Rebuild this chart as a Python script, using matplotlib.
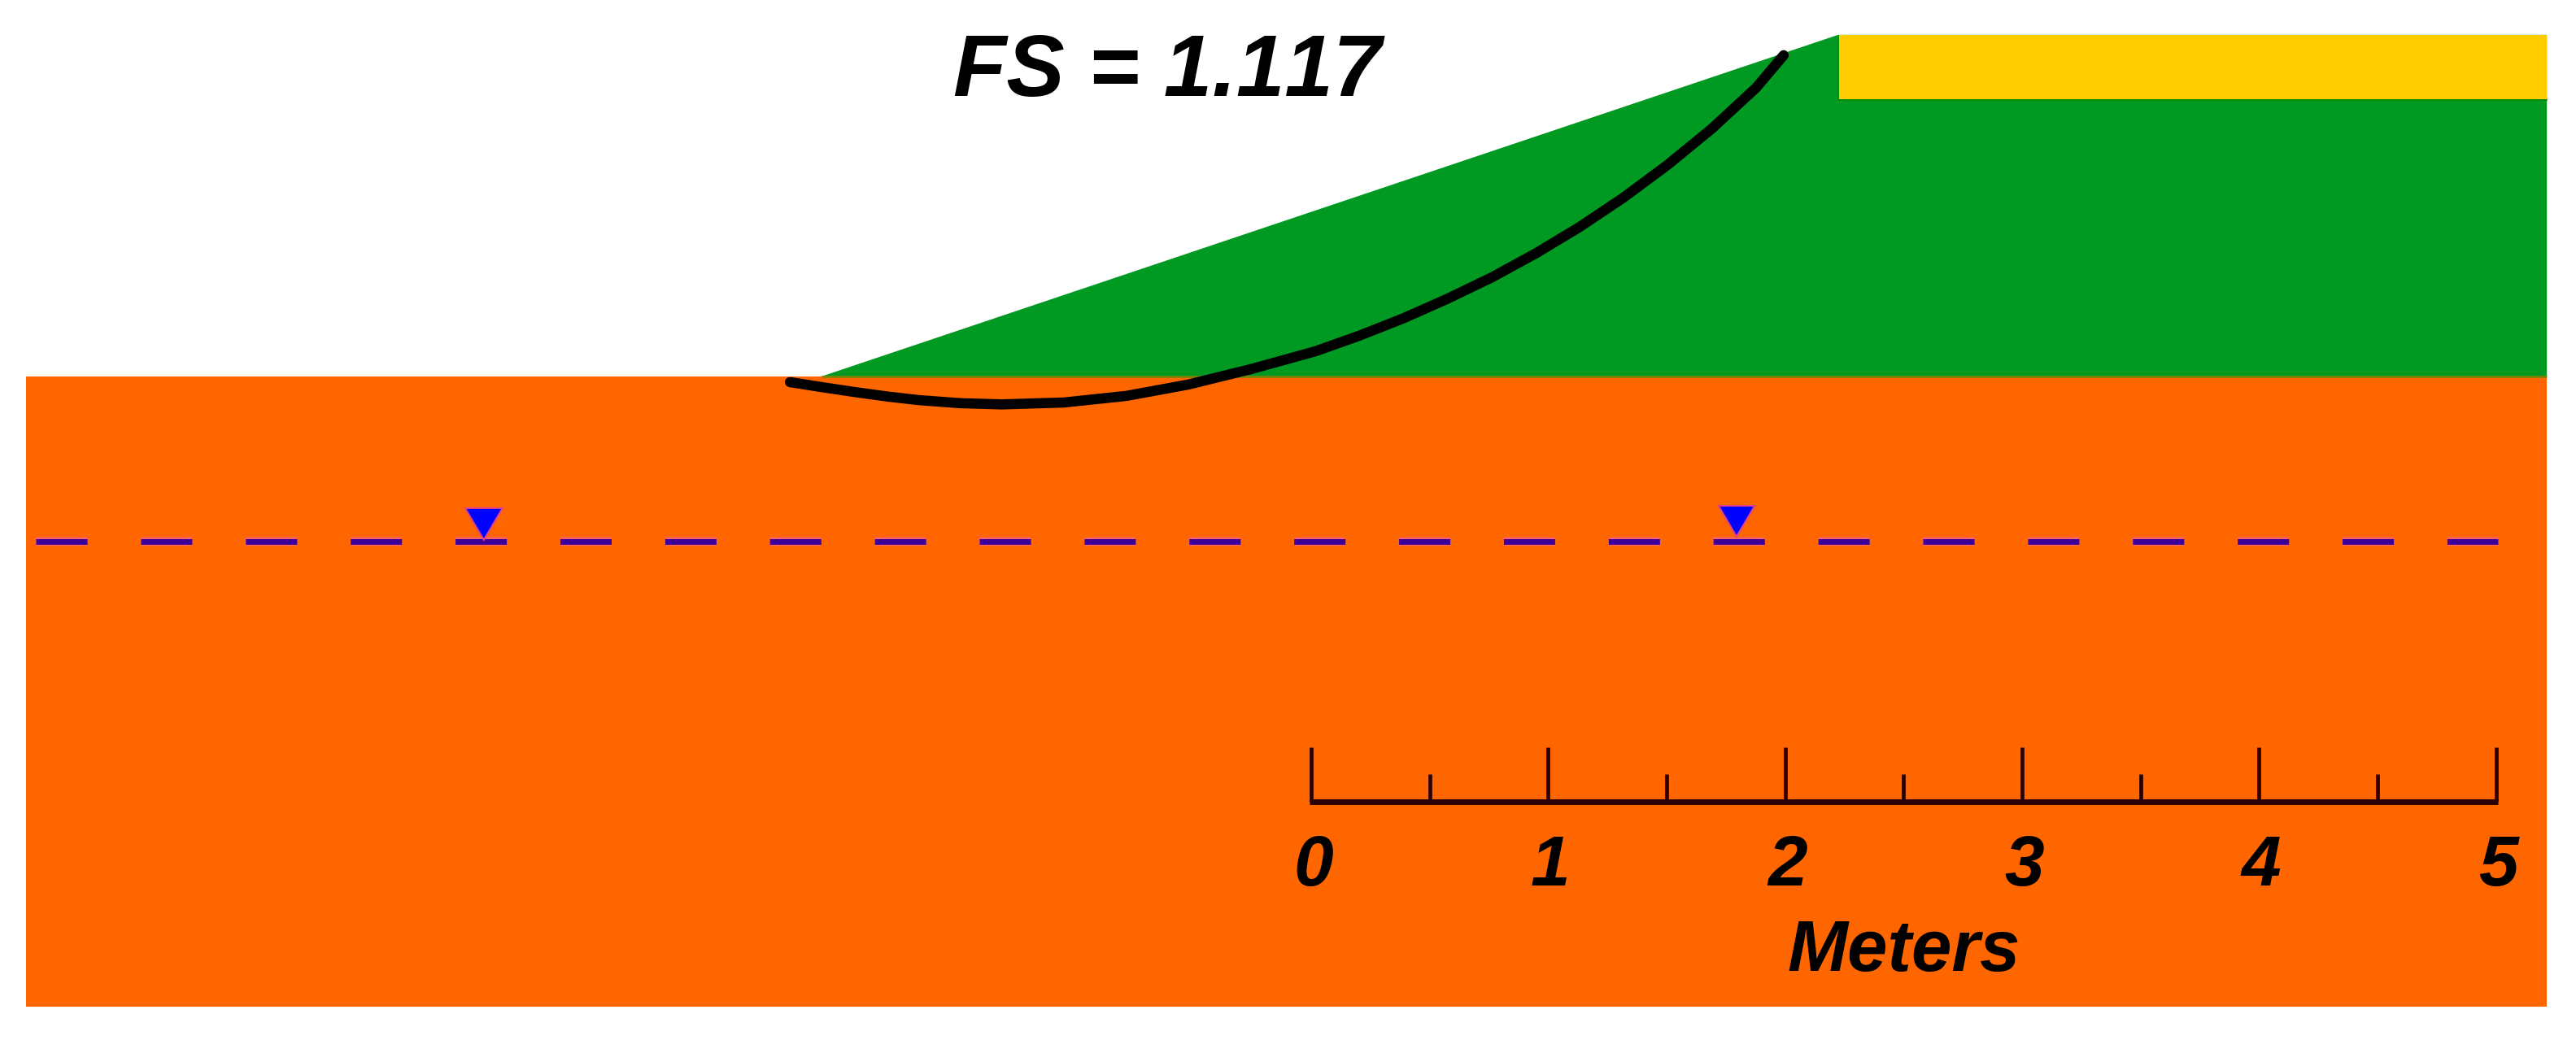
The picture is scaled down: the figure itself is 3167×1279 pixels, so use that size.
import matplotlib
matplotlib.use('Agg')
import matplotlib.pyplot as plt

plt.rcParams['font.family'] = ['Liberation Sans', 'DejaVu Sans']
plt.rcParams['lines.scale_dashes'] = False
plt.rcParams['text.kerning_factor'] = 6

# everything in meters, x = 0 at the scale bar zero, y = 0 at the ground surface
foundation_x = [-5.424, 5.215, 5.215, -5.424]
foundation_y = [0, 0, -2.66, -2.66]

embankment_x = [-2.067, 2.224, 5.215, 5.215]
embankment_y = [0, 1.442, 1.442, 0]

load_x = [2.228, 5.215, 5.215, 2.228]
load_y = [1.442, 1.442, 1.171, 1.171]

slip_x = [-2.200, -2.060, -1.919, -1.787, -1.655, -1.480, -1.305, -1.044, -0.779, -0.518, -0.254, 0.017, 0.203,
          0.388, 0.573, 0.762, 0.947, 1.133, 1.318, 1.504, 1.692, 1.878, 1.994]
slip_y = [-0.024, -0.046, -0.067, -0.085, -0.100, -0.113, -0.118, -0.110, -0.082, -0.034, 0.031, 0.106, 0.172,
          0.245, 0.327, 0.418, 0.519, 0.631, 0.755, 0.893, 1.047, 1.219, 1.356]

water_x = [-5.383, 5.009]
water_y = [-0.697, -0.697]

marker1_x = [-3.571, -3.413, -3.492]
marker1_y = [-0.556, -0.556, -0.690]
marker2_x = [1.719, 1.872, 1.795]
marker2_y = [-0.546, -0.546, -0.676]

major_ticks = [0, 1, 2, 3, 4, 5]
minor_ticks = [0.5, 1.5, 2.5, 3.5, 4.5]
tick_labels = ['0', '1', '2', '3', '4', '5']
bar_y = -1.795
major_top = -1.565
minor_top = -1.679

fs_text = 'FS = 1.117'
unit_text = 'Meters'

fig = plt.figure(figsize=(31.67, 12.79), dpi=100)
ax = fig.add_axes([0, 0, 1, 1])
ax.set_xlim(-5.534, 5.338)
ax.set_ylim(-2.801, 1.589)
ax.axis('off')

ax.fill(foundation_x, foundation_y, color='#FF6600', lw=0, zorder=1)
ax.fill(embankment_x, embankment_y, color='#009A22', lw=0, zorder=2)
ax.fill(load_x, load_y, color='#FFCC00', lw=0, zorder=3)

# darker seams where the colours meet
ax.plot([embankment_x[0], foundation_x[1]], [0, 0], color='#7F8200', lw=2,
        solid_capstyle='butt', zorder=4)
ax.plot([load_x[0], load_x[0], load_x[1]], [load_y[0], load_y[2], load_y[2]], color='#008C00', lw=2.2,
        solid_capstyle='butt', zorder=2.5)

ax.plot(slip_x, slip_y, color='black', lw=9, solid_capstyle='round', solid_joinstyle='round', zorder=6)

ax.plot(water_x, water_y, color='#FF5E6E', lw=7.5, dashes=(45.4, 47.4), dash_capstyle='butt', zorder=5)
ax.plot(water_x, water_y, color='#3C0099', lw=5, dashes=(45.4, 47.4), dash_capstyle='butt', zorder=5.1)
ax.fill(marker1_x, marker1_y, facecolor='#0000FF', edgecolor='#E0408A', lw=1.5, zorder=5.2)
ax.fill(marker2_x, marker2_y, facecolor='#0000FF', edgecolor='#E0408A', lw=1.5, zorder=5.2)

# scale bar
bar_color = '#2A0000'
ax.plot([major_ticks[0] - 0.008, major_ticks[-1] + 0.008], [bar_y, bar_y], color=bar_color, lw=5,
        solid_capstyle='butt', zorder=7)
for t in major_ticks:
    ax.plot([t, t], [bar_y, major_top], color=bar_color, lw=3.4, solid_capstyle='butt', zorder=7)
for t in minor_ticks:
    ax.plot([t, t], [bar_y, minor_top], color=bar_color, lw=3.4, solid_capstyle='butt', zorder=7)
for t, s in zip(major_ticks, tick_labels):
    ax.text(t + 0.01, -2.15, s, fontsize=63, fontweight='bold', fontstyle='italic',
            ha='center', va='baseline', color='black', zorder=8)

ax.text(2.5, -2.508, unit_text, fontsize=64, fontweight='bold', fontstyle='italic',
        ha='center', va='baseline', color='black', zorder=8)
ax.text(-0.608, 1.184, fs_text, fontsize=77, fontweight='bold', fontstyle='italic',
        ha='center', va='baseline', color='black', zorder=8)

fig.savefig('out.png', dpi=100, facecolor='white')
